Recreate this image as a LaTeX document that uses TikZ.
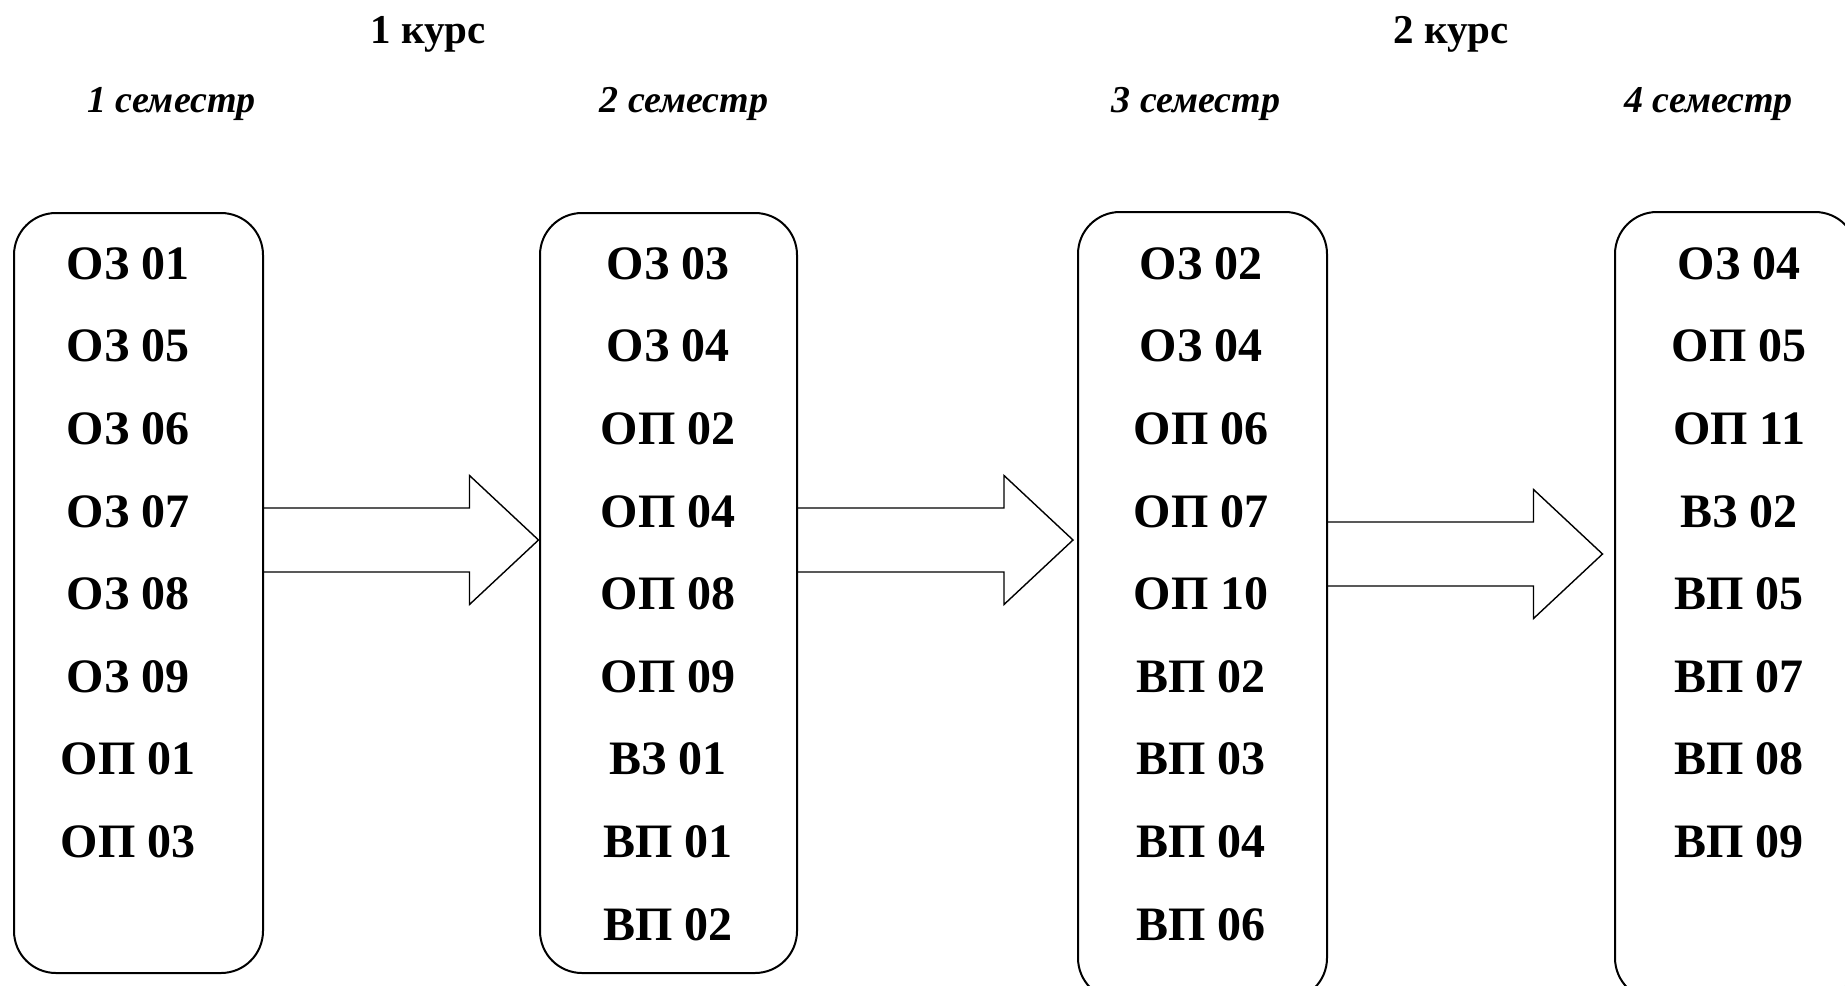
\documentclass[tikz,border=0pt]{standalone}
\usepackage{fontspec}
\setmainfont{Liberation Serif}
\usetikzlibrary{calc}

\tikzset{
  sembox/.style={draw,line width=1pt,rounded corners=21pt,inner sep=0pt},
  subj/.style={anchor=base,inner sep=0pt,font=\fontsize{24}{28}\selectfont\bfseries},
  kurs/.style={anchor=base,inner sep=0pt,font=\fontsize{20.5}{24}\selectfont\bfseries},
  sem/.style={anchor=base,inner sep=0pt,font=\fontsize{19}{23}\selectfont\bfseries\itshape},
  blockarrow/.style={line width=0.7pt,line join=miter}
}

\begin{document}
\begin{tikzpicture}[x=0.5pt,y=-0.5pt]
\useasboundingbox (0,0) rectangle (1845,985);
\clip (0,0) rectangle (1845,985);

\node[kurs] (k1) at (428,43) {1 курс};
\node[kurs] (k2) at (1451,43) {2 курс};
\node[sem] (m1) at (171.5,112) {1 семестр};
\node[sem] (m2) at (684,112) {2 семестр};
\node[sem] (m3) at (1196,112) {3 семестр};
\node[sem] (m4) at (1708.5,112) {4 семестр};

\node[sembox,minimum width=124.5pt,minimum height=380pt] (s1) at (138.5,593) {};
\node[sembox,minimum width=128.5pt,minimum height=380pt] (s2) at (668.5,593) {};
\node[sembox,minimum width=124.5pt,minimum height=394pt] (s3) at (1202.5,606) {};
\node[sembox,minimum width=121pt,minimum height=394pt] (s4) at (1736,606) {};

\foreach \t [count=\i] in {ОЗ 01,ОЗ 05,ОЗ 06,ОЗ 07,ОЗ 08,ОЗ 09,ОП 01,ОП 03}
  \node[subj] (a\i) at (128,{279.3+82.6*(\i-1)}) {\t};
\foreach \t [count=\i] in {ОЗ 03,ОЗ 04,ОП 02,ОП 04,ОП 08,ОП 09,ВЗ 01,ВП 01,ВП 02}
  \node[subj] (b\i) at (668,{279.3+82.6*(\i-1)}) {\t};
\foreach \t [count=\i] in {ОЗ 02,ОЗ 04,ОП 06,ОП 07,ОП 10,ВП 02,ВП 03,ВП 04,ВП 06}
  \node[subj] (c\i) at (1201,{279.3+82.6*(\i-1)}) {\t};
\foreach \t [count=\i] in {ОЗ 04,ОП 05,ОП 11,ВЗ 02,ВП 05,ВП 07,ВП 08,ВП 09}
  \node[subj] (d\i) at (1739,{279.3+82.6*(\i-1)}) {\t};

\coordinate (t1) at (538.5,540);
\coordinate (t2) at (1073,540);
\coordinate (t3) at (1602.5,554);

\foreach \s/\t in {s1/t1,s2/t2,s3/t3}
  \draw[blockarrow] ($(\s.east |- \t)+(0,-32)$) -- ($(\t)+(-69,-32)$) -- ($(\t)+(-69,-64.5)$)
    -- (\t) -- ($(\t)+(-69,64.5)$) -- ($(\t)+(-69,32)$) -- ($(\s.east |- \t)+(0,32)$);
\end{tikzpicture}
\end{document}
